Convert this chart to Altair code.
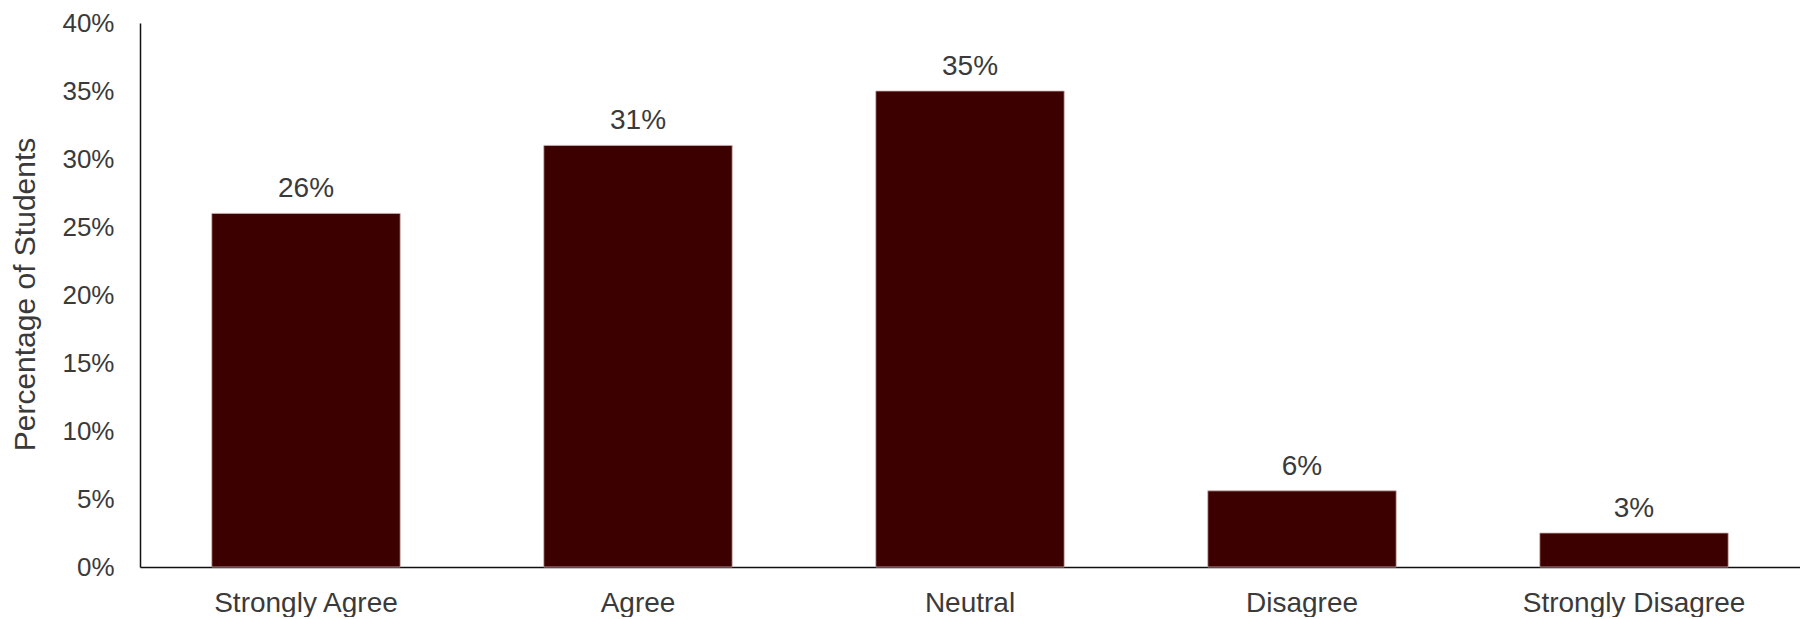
import altair as alt
import pandas as pd

categories = ["Strongly Agree", "Agree", "Neutral", "Disagree", "Strongly Disagree"]
values = [0.26, 0.31, 0.35, 0.056, 0.025]
labels = ["26%", "31%", "35%", "6%", "3%"]
y_ticks = [0, 0.05, 0.10, 0.15, 0.20, 0.25, 0.30, 0.35, 0.40]

df = pd.DataFrame({"category": categories, "value": values, "label": labels})

FONT = "Liberation Sans"
TEXT = "#3a3a3a"

x = alt.X(
    "category:N",
    sort=categories,
    title=None,
    scale=alt.Scale(paddingInner=0.4325, paddingOuter=0.21625),
    axis=alt.Axis(
        labelAngle=0,
        labelFont=FONT,
        labelFontSize=28,
        labelColor=TEXT,
        labelPadding=22,
        labelLimit=0,
        ticks=False,
        tickSize=0,
        domainColor="#111111",
        domainWidth=1.5,
        grid=False,
    ),
)

y = alt.Y(
    "value:Q",
    scale=alt.Scale(domain=[0, 0.40], nice=False),
    axis=alt.Axis(
        values=y_ticks,
        format=".0%",
        title="Percentage of Students",
        titleFont=FONT,
        titleFontSize=30,
        titleFontWeight="normal",
        titleColor=TEXT,
        titleAngle=-90,
        titleX=-115,
        titleY=271,
        titleAlign="center",
        titleBaseline="middle",
        labelFont=FONT,
        labelFontSize=26,
        labelColor=TEXT,
        labelPadding=26,
        ticks=False,
        tickSize=0,
        domainColor="#111111",
        domainWidth=1.5,
        grid=False,
    ),
)

bars = alt.Chart(df).mark_bar(color="#3c0000", stroke="#cfb3b3", strokeWidth=0.8).encode(x=x, y=y)

text = alt.Chart(df).mark_text(
    font=FONT, fontSize=28, color=TEXT, baseline="alphabetic", dy=-16
).encode(
    x=alt.X("category:N", sort=categories),
    y=alt.Y("value:Q"),
    text="label:N",
)

chart = (
    alt.layer(bars, text)
    .properties(
        width=1660,
        height=544,
        background="white",
        autosize=alt.AutoSizeParams(type="none"),
        padding={"left": 132, "top": 15, "right": 0, "bottom": 50},
    )
    .configure_view(strokeWidth=0, stroke="transparent")
    .configure_axis(grid=False)
)

chart.save("out.html", embed_options={"renderer": "svg", "actions": False})
